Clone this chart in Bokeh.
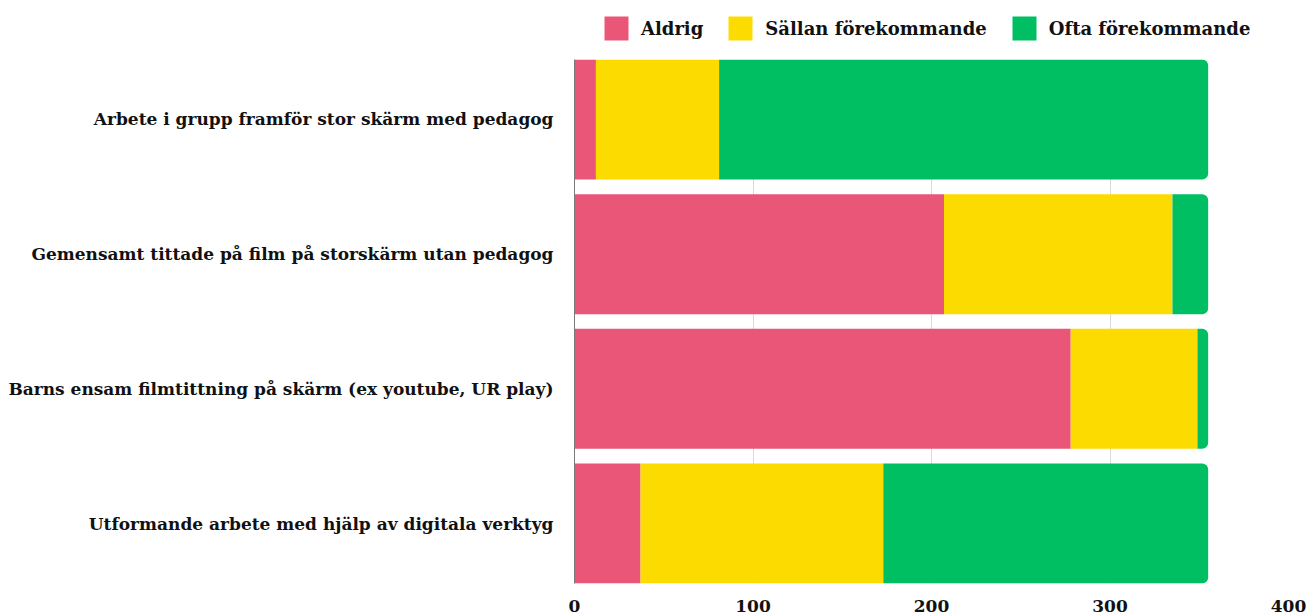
from bokeh.plotting import figure
from bokeh.layouts import column
from bokeh.models import Range1d, FixedTicker, Legend, LegendItem, ColumnDataSource
from bokeh.embed import file_html
from bokeh.resources import INLINE

categories = [
    "Arbete i grupp framför stor skärm med pedagog",
    "Gemensamt tittade på film på storskärm utan pedagog",
    "Barns ensam filmtittning på skärm (ex youtube, UR play)",
    "Utformande arbete med hjälp av digitala verktyg",
]
aldrig = [12, 207, 278, 37]
sallan = [69, 128, 71, 136]
ofta = [274, 20, 6, 182]
series_names = ["Aldrig", "Sällan förekommande", "Ofta förekommande"]
colors = ["#EA5677", "#FCDB00", "#00BF63"]
x_ticks = [0, 100, 200, 300, 400]

n = len(categories)
ypos = [n - 1 - i for i in range(n)]
src = ColumnDataSource(dict(y=ypos, Aldrig=aldrig, Sallan=sallan, Ofta=ofta))

FONT = "DejaVu Serif"
LEFT, FRAME_W, RIGHT = 574, 714, 18

# --- legend strip (swatches are off-range placeholders, only their legend glyphs show) ---
lf = figure(frame_width=FRAME_W, height=59, output_backend="svg", toolbar_location=None,
            x_range=Range1d(0, 1), y_range=Range1d(0, 1),
            min_border_left=LEFT, min_border_right=RIGHT, min_border_top=0, min_border_bottom=0)
lf.axis.visible = False
lf.grid.grid_line_color = None
lf.outline_line_color = None
dummy = [lf.quad(left=[-2], right=[-1], top=[-1], bottom=[-2], fill_color=c, line_color=None)
         for c in colors]
legend = Legend(items=[LegendItem(label=name, renderers=[r]) for name, r in zip(series_names, dummy)],
                orientation="horizontal", location=(27, 16),
                glyph_width=30, glyph_height=30, label_text_font=FONT,
                label_text_font_style="bold", label_text_font_size="18px",
                label_text_color="#111111", spacing=22, padding=6, margin=0,
                border_line_color=None, background_fill_alpha=0, label_standoff=10)
lf.add_layout(legend, "center")

# --- main chart ---
p = figure(frame_width=FRAME_W, frame_height=524, output_backend="svg", toolbar_location=None,
           x_range=Range1d(0, 400), y_range=Range1d(-0.4455, n - 1 + 0.4455),
           min_border_left=LEFT, min_border_right=RIGHT, min_border_top=0, min_border_bottom=0)
p.outline_line_color = None

rs = p.hbar_stack(["Aldrig", "Sallan", "Ofta"], y="y", height=0.891, color=colors,
                  source=src, line_width=0)
rs[2].glyph.border_radius = (0, 6, 6, 0)

p.xaxis.ticker = FixedTicker(ticks=x_ticks)
p.xaxis.axis_line_color = None
p.xaxis.major_tick_line_color = None
p.xaxis.minor_tick_line_color = None
p.xaxis.major_label_text_font = FONT
p.xaxis.major_label_text_font_style = "bold"
p.xaxis.major_label_text_font_size = "17px"
p.xaxis.major_label_text_color = "#111111"
p.xaxis.major_label_standoff = 10

p.yaxis.ticker = FixedTicker(ticks=ypos)
p.yaxis.major_label_overrides = {y: c for y, c in zip(ypos, categories)}
p.yaxis.axis_line_color = "#7a7a7a"
p.yaxis.major_tick_line_color = None
p.yaxis.minor_tick_line_color = None
p.yaxis.major_label_text_font = FONT
p.yaxis.major_label_text_font_style = "bold"
p.yaxis.major_label_text_font_size = "17px"
p.yaxis.major_label_text_color = "#111111"
p.yaxis.major_label_standoff = 15

p.xgrid.ticker = FixedTicker(ticks=x_ticks)
p.xgrid.grid_line_color = "#d9d9d9"
p.ygrid.grid_line_color = None

layout = column(lf, p, spacing=0)
open("out.html", "w").write(file_html(layout, INLINE))
